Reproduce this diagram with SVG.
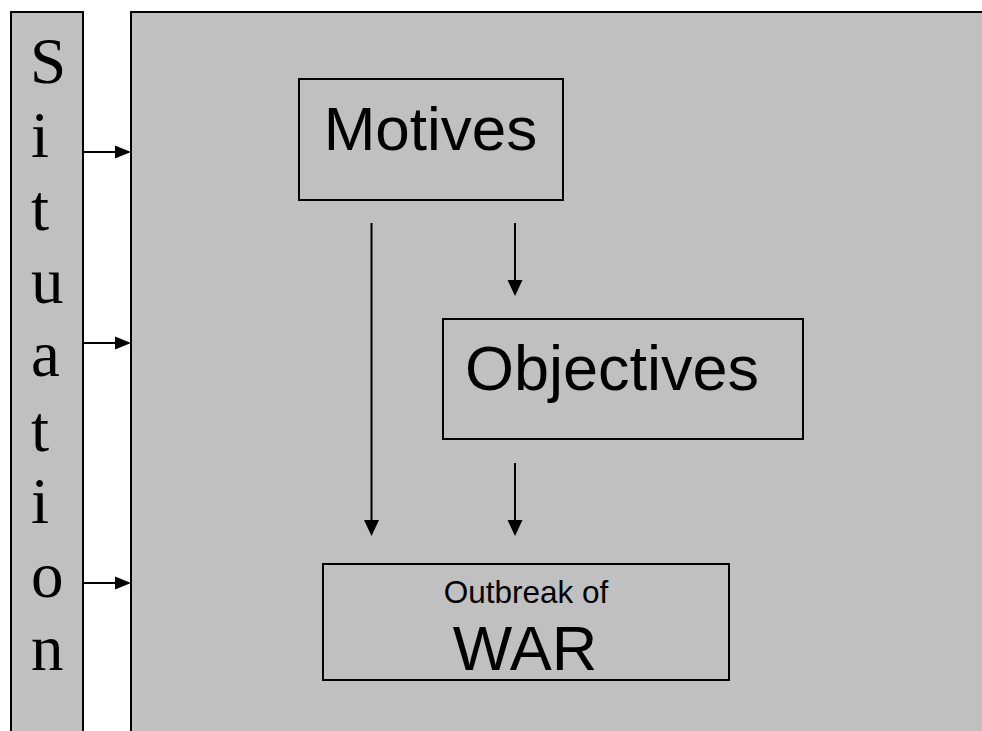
<svg xmlns="http://www.w3.org/2000/svg" width="982" height="731" viewBox="0 0 982 731">
<style>
.panel{fill:#c0c0c0;stroke:#000;stroke-width:2}
.box{fill:none;stroke:#000;stroke-width:2}
.ln{stroke:#000;stroke-width:2;fill:none}
.ah{fill:#000}
.sans{font-family:"Liberation Sans",Arial,sans-serif;fill:#000}
.ser{font-family:"Liberation Serif","Times New Roman",serif;font-size:65px;fill:#000}
</style>
<rect width="982" height="731" fill="#fff"/>
<g id="situation">
<rect class="panel" x="11" y="12" width="72" height="730"/>
<text class="ser" x="30" y="83">S</text>
<text class="ser" x="31" y="157">i</text>
<text class="ser" x="31" y="230">t</text>
<text class="ser" x="31" y="303">u</text>
<text class="ser" x="31" y="376">a</text>
<text class="ser" x="31" y="451">t</text>
<text class="ser" x="31" y="523">i</text>
<text class="ser" x="31" y="597">o</text>
<text class="ser" x="31" y="670">n</text>
</g>
<g id="main">
<rect class="panel" x="131" y="12" width="870" height="730"/>
</g>
<g id="motives">
<rect class="box" x="299" y="79" width="264" height="121"/>
<text class="sans" x="430.5" y="150" font-size="62" text-anchor="middle">Motives</text>
</g>
<g id="objectives">
<rect class="box" x="443" y="319" width="360" height="120"/>
<text class="sans" x="465" y="390" font-size="63">Objectives</text>
</g>
<g id="war">
<rect class="box" x="323" y="564" width="406" height="116"/>
<text class="sans" x="526" y="602.5" font-size="31.5" text-anchor="middle">Outbreak of</text>
<text class="sans" x="525" y="670" font-size="63" text-anchor="middle">WAR</text>
</g>
<g id="connectors">
<line class="ln" x1="83" y1="152" x2="117" y2="152"/>
<polygon class="ah" points="115,145.5 131,152 115,158.5"/>
<line class="ln" x1="83" y1="343" x2="117" y2="343"/>
<polygon class="ah" points="115,336.5 131,343 115,349.5"/>
<line class="ln" x1="83" y1="583" x2="117" y2="583"/>
<polygon class="ah" points="115,576.5 131,583 115,589.5"/>
<line class="ln" x1="371.5" y1="223" x2="371.5" y2="522"/>
<polygon class="ah" points="364,520 379,520 371.5,536"/>
<line class="ln" x1="515" y1="223" x2="515" y2="282"/>
<polygon class="ah" points="507.5,280 522.5,280 515,296"/>
<line class="ln" x1="515" y1="463" x2="515" y2="522"/>
<polygon class="ah" points="507.5,520 522.5,520 515,536"/>
</g>
</svg>
